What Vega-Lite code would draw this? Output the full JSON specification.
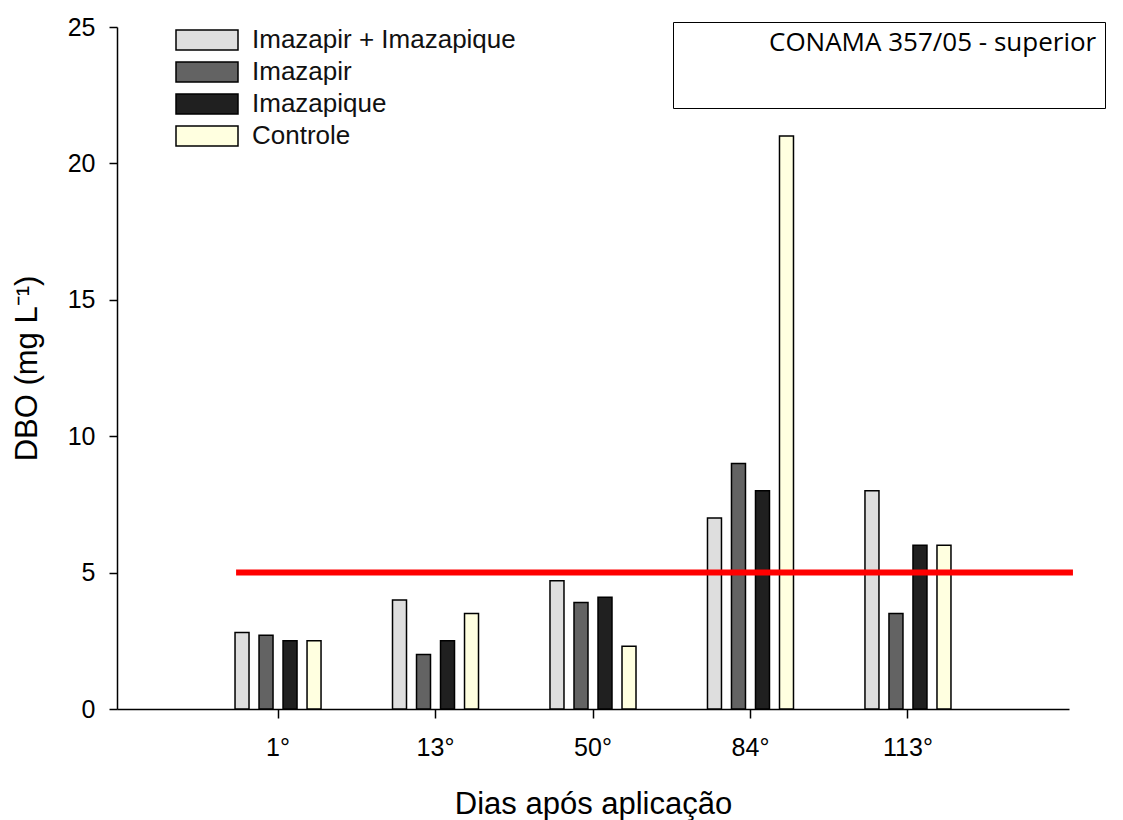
{
  "$schema": "https://vega.github.io/schema/vega-lite/v6.json",
  "width": 952,
  "height": 682,
  "autosize": {"type": "none"},
  "padding": {"left": 117, "top": 27, "right": 54, "bottom": 111},
  "background": "#ffffff",
  "config": {
    "view": {"stroke": null},
    "axis": {
      "grid": false,
      "labelFont": "Liberation Sans",
      "titleFont": "Liberation Sans",
      "labelColor": "#000000",
      "titleColor": "#000000",
      "domainColor": "#000000",
      "tickColor": "#000000",
      "domainWidth": 1.5,
      "tickWidth": 1.5,
      "titleFontWeight": "normal"
    }
  },
  "data": {
    "values": [
      {"dia": "1°", "tratamento": "Imazapir + Imazapique", "dbo": 2.8},
      {"dia": "1°", "tratamento": "Imazapir", "dbo": 2.7},
      {"dia": "1°", "tratamento": "Imazapique", "dbo": 2.5},
      {"dia": "1°", "tratamento": "Controle", "dbo": 2.5},
      {"dia": "13°", "tratamento": "Imazapir + Imazapique", "dbo": 4.0},
      {"dia": "13°", "tratamento": "Imazapir", "dbo": 2.0},
      {"dia": "13°", "tratamento": "Imazapique", "dbo": 2.5},
      {"dia": "13°", "tratamento": "Controle", "dbo": 3.5},
      {"dia": "50°", "tratamento": "Imazapir + Imazapique", "dbo": 4.7},
      {"dia": "50°", "tratamento": "Imazapir", "dbo": 3.9},
      {"dia": "50°", "tratamento": "Imazapique", "dbo": 4.1},
      {"dia": "50°", "tratamento": "Controle", "dbo": 2.3},
      {"dia": "84°", "tratamento": "Imazapir + Imazapique", "dbo": 7.0},
      {"dia": "84°", "tratamento": "Imazapir", "dbo": 9.0},
      {"dia": "84°", "tratamento": "Imazapique", "dbo": 8.0},
      {"dia": "84°", "tratamento": "Controle", "dbo": 21.0},
      {"dia": "113°", "tratamento": "Imazapir + Imazapique", "dbo": 8.0},
      {"dia": "113°", "tratamento": "Imazapir", "dbo": 3.5},
      {"dia": "113°", "tratamento": "Imazapique", "dbo": 6.0},
      {"dia": "113°", "tratamento": "Controle", "dbo": 6.0}
    ]
  },
  "layer": [
    {
      "mark": {"type": "bar", "stroke": "#000000", "strokeWidth": 1.5},
      "encoding": {
        "x": {
          "field": "dia",
          "type": "nominal",
          "sort": ["1°", "13°", "50°", "84°", "113°"],
          "scale": {"paddingInner": 0.149, "paddingOuter": 0.597},
          "axis": {
            "title": "Dias após aplicação",
            "labelAngle": 0,
            "labelFontSize": 25,
            "tickSize": 9,
            "labelPadding": 17,
            "titleFontSize": 31,
            "titlePadding": 29
          }
        },
        "xOffset": {
          "field": "tratamento",
          "type": "nominal",
          "sort": ["Imazapir + Imazapique", "Imazapir", "Imazapique", "Controle"],
          "scale": {"paddingInner": 0.417, "paddingOuter": 1}
        },
        "y": {
          "field": "dbo",
          "type": "quantitative",
          "title": "DBO (mg L⁻¹)",
          "scale": {"domain": [0, 25], "nice": false},
          "axis": {
            "values": [0, 5, 10, 15, 20, 25],
            "labelFontSize": 25,
            "tickSize": 8,
            "labelPadding": 14,
            "titleFontSize": 31,
            "titlePadding": 24
          }
        },
        "fill": {
          "field": "tratamento",
          "type": "nominal",
          "sort": ["Imazapir + Imazapique", "Imazapir", "Imazapique", "Controle"],
          "scale": {
            "domain": ["Imazapir + Imazapique", "Imazapir", "Imazapique", "Controle"],
            "range": ["#dedede", "#636363", "#202020", "#ffffe0"]
          },
          "legend": {
            "title": null,
            "orient": "none",
            "legendX": 56,
            "legendY": 0,
            "padding": 0,
            "symbolType": "M-3.1,-1L3.1,-1L3.1,1L-3.1,1Z",
            "symbolSize": 400,
            "symbolStrokeColor": "#000000",
            "symbolStrokeWidth": 1.5,
            "symbolOffset": 21,
            "labelOffset": 32,
            "labelFont": "Liberation Sans",
            "labelFontSize": 26,
            "labelColor": "#111111",
            "labelLimit": 500,
            "rowPadding": 6
          }
        }
      }
    },
    {
      "data": {"values": [{"limite": 5, "norma": "CONAMA 357/05 - superior"}]},
      "mark": {"type": "rule", "strokeWidth": 6, "strokeCap": "butt"},
      "encoding": {
        "x": {"datum": "1°", "bandPosition": 0.187},
        "x2": {"datum": "113°", "bandPosition": 1.731},
        "y": {"field": "limite", "type": "quantitative", "title": "DBO (mg L⁻¹)"},
        "stroke": {
          "field": "norma",
          "type": "nominal",
          "scale": {"domain": ["CONAMA 357/05 - superior"], "range": ["#ff0000"]},
          "legend": {
            "title": " ",
            "titleOrient": "bottom",
            "titleFontSize": 25,
            "titlePadding": 19,
            "orient": "none",
            "legendX": 556,
            "legendY": -5,
            "padding": 8,
            "strokeColor": "#000000",
            "fillColor": "#ffffff",
            "symbolOpacity": 0,
            "symbolSize": 64,
            "symbolStrokeWidth": 0,
            "labelOffset": 62,
            "labelFont": "Open Sans",
            "labelFontSize": 26,
            "labelColor": "#000000",
            "labelLimit": 600
          }
        }
      }
    }
  ]
}
